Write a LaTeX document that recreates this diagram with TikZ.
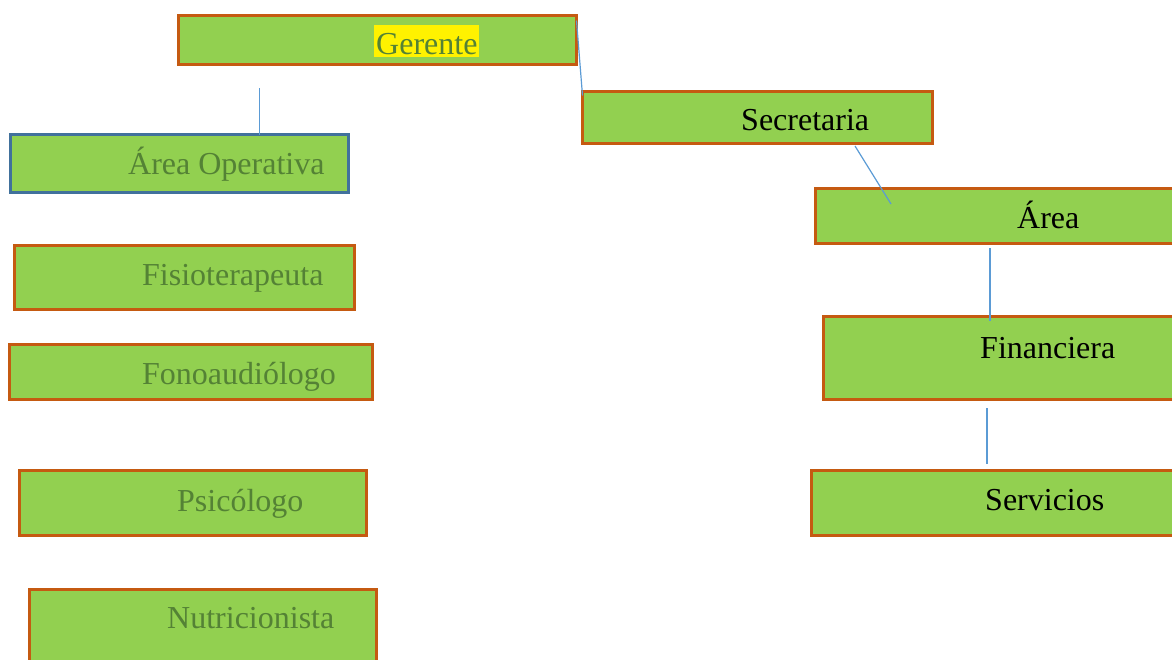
\documentclass[tikz,border=0pt]{standalone}
\usepackage{fontspec}
\setmainfont{Liberation Serif}
\usetikzlibrary{positioning,calc}
\definecolor{boxFill}{HTML}{92D050}
\definecolor{boxBorder}{HTML}{C55A11}
\definecolor{opBorder}{HTML}{41719C}
\definecolor{lineBlue}{HTML}{5B9BD5}
\definecolor{txtGreen}{HTML}{548235}
\begin{document}
\begin{tikzpicture}[x=1pt,y=-1pt,
    orgbox/.style={rectangle, draw=boxBorder, fill=boxFill, line width=3pt,
      anchor=north west, inner sep=0, outer sep=0},
    boxtext/.style={anchor=base west, inner sep=0, font=\fontsize{32}{38}\selectfont},
    conn/.style={draw=lineBlue, line width=1.2pt}
  ]
  \useasboundingbox (0,0) rectangle (1172,659);
  \clip (0,0) rectangle (1172,659);

  % left column
  \node[orgbox, minimum width=398, minimum height=49] (ger) at (178.5,15.5) {};
  \node[orgbox, draw=opBorder, minimum width=338, minimum height=58] (oper) at (10.5,134.5) {};
  \node[orgbox, minimum width=340, minimum height=64] (fisio) at (14.5,245.5) {};
  \node[orgbox, minimum width=363, minimum height=55] (fono) at (9.5,344.5) {};
  \node[orgbox, minimum width=347, minimum height=65] (psico) at (19.5,470.5) {};
  \node[orgbox, minimum width=347, minimum height=100] (nutri) at (29.5,589.5) {};

  % right column
  \node[orgbox, minimum width=350, minimum height=52] (sec) at (582.5,91.5) {};
  \node[orgbox, minimum width=400, minimum height=55] (area) at (815.5,188.5) {};
  \node[orgbox, minimum width=400, minimum height=83] (fin) at (823.5,316.5) {};
  \node[orgbox, minimum width=400, minimum height=65] (serv) at (811.5,470.5) {};

  % texts
  \node[boxtext, text=txtGreen, fill=yellow, inner xsep=2pt, text height=29pt, text depth=3pt] (gerT) at (374,54) {Gerente};
  \node[boxtext, text=txtGreen] (operT) at (128,174) {Área Operativa};
  \node[boxtext, text=txtGreen] (fisioT) at (142,285) {Fisioterapeuta};
  \node[boxtext, text=txtGreen] (fonoT) at (142,384) {Fonoaudiólogo};
  \node[boxtext, text=txtGreen] (psicoT) at (177,511) {Psicólogo};
  \node[boxtext, text=txtGreen] (nutriT) at (167,628) {Nutricionista};
  \node[boxtext] (secT) at (741,130) {Secretaria};
  \node[boxtext] (areaT) at (1017,228) {Área};
  \node[boxtext] (finT) at (980,358) {Financiera};
  \node[boxtext] (servT) at (985,510) {Servicios};

  % connectors
  \coordinate (gerFoot) at (259.5,88);
  \coordinate (secFoot) at (855,146);
  \coordinate (areaIn) at (891,204);
  \coordinate (areaFoot) at (990,248);
  \coordinate (finIn) at (990,321);
  \coordinate (finFoot) at (987,408);
  \coordinate (servTop) at (987,464);
  \draw[conn] (gerFoot) -- (gerFoot |- oper.north);
  \draw[conn] ([yshift=-5pt]ger.north east) -- ([yshift=-4pt]sec.north west);
  \draw[conn] (secFoot) -- (areaIn);
  \draw[conn] (areaFoot) -- (finIn);
  \draw[conn] (finFoot) -- (servTop);
\end{tikzpicture}
\end{document}
